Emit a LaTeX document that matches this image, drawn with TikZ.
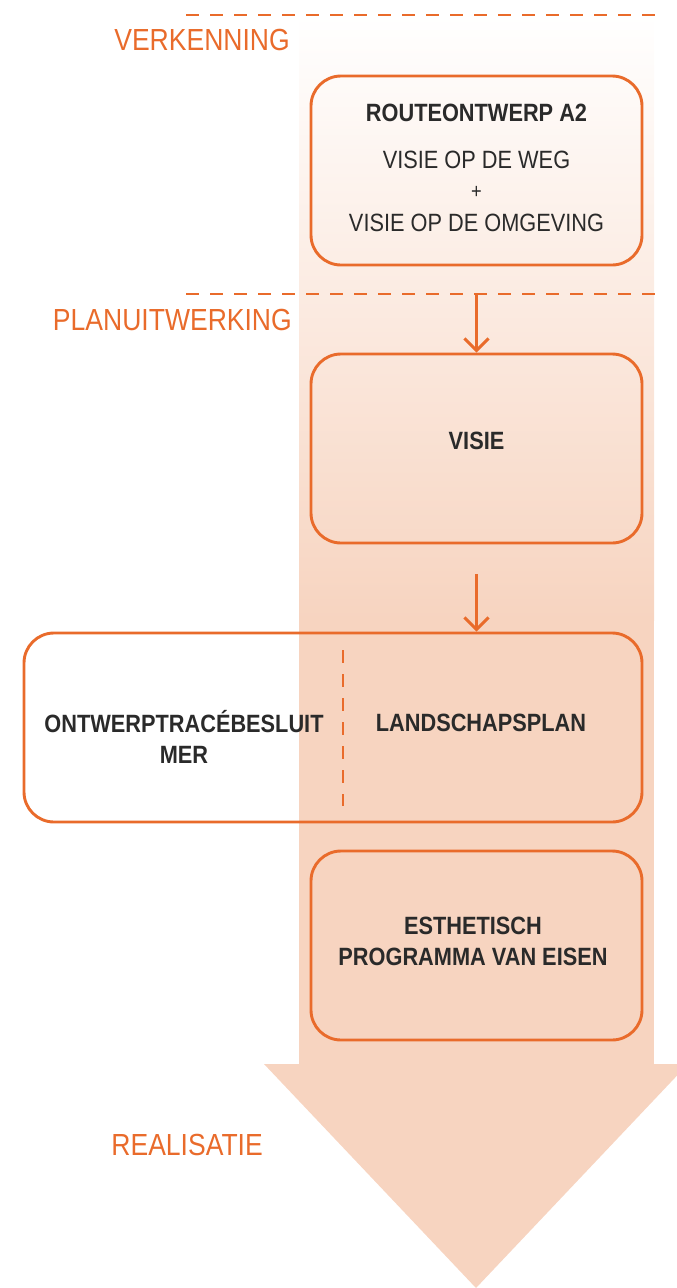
\documentclass[tikz,border=0pt]{standalone}
\usepackage{fontspec}
\setmainfont{Liberation Sans}[FakeStretch=0.87]
\usetikzlibrary{arrows.meta}
\definecolor{oranje}{HTML}{E96B2B}
\definecolor{zalm}{HTML}{F7D4C0}
\definecolor{donker}{HTML}{2A2A2A}

\begin{document}
\begin{tikzpicture}[x=1pt, y=-1pt,
    box/.style={draw=oranje, line width=2.9pt, rounded corners=30pt, minimum width=331pt, minimum height=189pt, inner sep=0pt},
    fase/.style={text=oranje, font=\fontsize{30.5}{30.5}\selectfont, anchor=east, inner sep=0pt},
    kop/.style={text=donker, font=\bfseries\fontsize{25}{31}\selectfont, align=center, inner sep=0pt},
    gewoon/.style={text=donker, font=\fontsize{25}{31}\selectfont, align=center, inner sep=0pt},
    grens/.style={draw=oranje, line width=2.9pt, dash pattern=on 13pt off 11pt},
    stap/.style={draw=oranje, line width=3pt, -{Straight Barb[length=12pt, width=24pt]}}]
  \useasboundingbox (0,0) rectangle (677,1288);
  % brede pijl op de achtergrond
  \shade[top color=white, bottom color=zalm] (299,15) rectangle (654,620);
  \fill[zalm] (299,619) rectangle (654,1065);
  \fill[zalm] (264,1064) -- (688,1064) -- (476,1288) -- cycle;
  % fasen
  \coordinate (grens1) at (186,15);
  \coordinate (grens2) at (186,294);
  \draw[grens] (grens1) -- (655,15);
  \draw[grens] (grens2) -- (655,294);
  \node[fase] (verkenning) at (290,40) {VERKENNING};
  \node[fase] (planuitwerking) at (292,320) {PLANUITWERKING};
  \node[fase] (realisatie) at (263,1145) {REALISATIE};
  % blokken
  \node[box] (routeontwerp) at (476.5,170.5) {};
  \node[kop] (route) at (476.5,113) {ROUTEONTWERP A2};
  \node[gewoon] (weg) at (476.5,160) {VISIE OP DE WEG};
  \node[text=donker, font=\fontsize{21}{21}\selectfont] (plus) at (476.5,192) {+};
  \node[gewoon] (omgeving) at (476.5,223) {VISIE OP DE OMGEVING};
  \node[box] (visie) at (476.5,448.5) {};
  \node[kop] (visietekst) at (476.5,441) {VISIE};
  \node[box, minimum width=618pt] (besluit) at (333,727.5) {};
  \draw[grens] (343,650) -- (343,806);
  \node[kop] (otb) at (184,737) {ONTWERPTRACÉBESLUIT\\MER};
  \node[kop] (landschapsplan) at (481,723) {LANDSCHAPSPLAN};
  \node[box] (eisen) at (476.5,945.5) {};
  \node[kop] (pve) at (473,941) {ESTHETISCH\\PROGRAMMA VAN EISEN};
  % pijlen
  \draw[stap] (routeontwerp.south |- grens2) -- (visie.north);
  \draw[stap] ([yshift=-30pt]visie.south) -- (visie.south |- besluit.north);
\end{tikzpicture}
\end{document}
